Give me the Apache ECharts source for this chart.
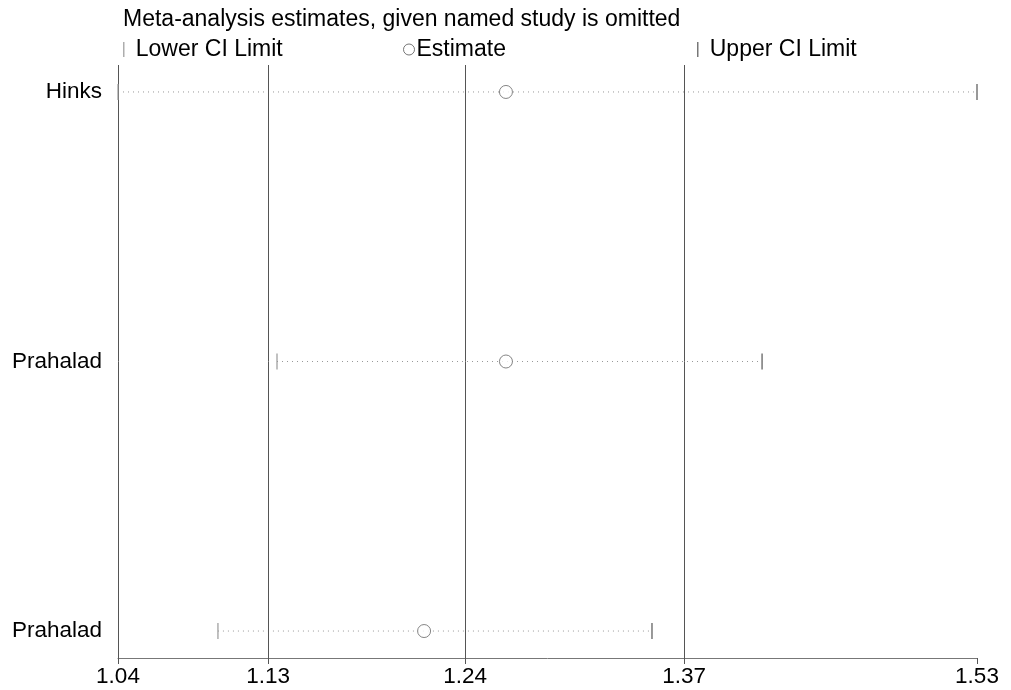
<!DOCTYPE html>
<html><head><meta charset="utf-8">
<script src="https://cdn.jsdelivr.net/npm/echarts@6/dist/echarts.min.js"></script>
<style>html,body{margin:0;padding:0;background:#fff}#c{width:1011px;height:690px}</style>
</head><body><div id="c"></div>
<script>
const studies = ['Hinks', 'Prahalad', 'Prahalad'];
const lowerCI = [1.04, 1.1307, 1.097];
const estimate = [1.2613, 1.2613, 1.2146];
const upperCI = [1.53, 1.4074, 1.3446];
const tickValues = [1.04, 1.1256, 1.238, 1.3629, 1.53];
const tickLabels = ['1.04', '1.13', '1.24', '1.37', '1.53'];
const refLines = [1.04, 1.1256, 1.238, 1.3629];
const titleText = 'Meta-analysis estimates, given named study is omitted';

const font = 'Liberation Sans, Arial, sans-serif';
const rows = studies.map((s, i) => i + 1);
const barPath = 'path://M0,0 L1,0 L1,10 L0,10 Z';
const yMin = 0.9, yMax = 3.1;

const refSeries = {
  type: 'custom', silent: true, z: 2,
  data: refLines.map(v => [v]),
  renderItem: (params, api) => {
    const top = api.coord([api.value(0), yMin]);
    const bot = api.coord([api.value(0), yMax]);
    const x = Math.round(top[0]) + 0.5;
    return { type: 'line', shape: { x1: x, y1: Math.round(top[1]), x2: x, y2: Math.round(bot[1]) },
      style: { stroke: '#555', lineWidth: 1 } };
  }
};

const ciSeries = rows.map((r, i) => ({
  type: 'line', silent: true, symbol: 'none', z: 1,
  data: [[lowerCI[i], r], [upperCI[i], r]],
  lineStyle: { color: '#999', width: 1, type: [1, 4] }
}));

const option = {
  animation: false,
  backgroundColor: '#fff',
  title: { text: titleText, left: 118, top: 3,
    textStyle: { fontFamily: font, fontSize: 23, fontWeight: 'normal', color: '#000' } },
  legend: [
    { data: ['Lower CI Limit'], left: 118, top: 33, itemWidth: 2, itemHeight: 15,
      textStyle: { fontFamily: font, fontSize: 23, color: '#000', padding: [0,0,0,6] } },
    { data: ['Estimate'], left: 398, top: 33, itemWidth: 11, itemHeight: 11,
      itemStyle: { color: '#fff', borderColor: '#555', borderWidth: 1 },
      textStyle: { fontFamily: font, fontSize: 23, color: '#000', padding: [0,0,0,-3] } },
    { data: ['Upper CI Limit'], left: 692, top: 33, itemWidth: 2, itemHeight: 15,
      textStyle: { fontFamily: font, fontSize: 23, color: '#000', padding: [0,0,0,6] } }
  ],
  grid: { left: 118, right: 34, top: 65, bottom: 32, containLabel: false },
  xAxis: {
    type: 'value', min: 1.04, max: 1.53,
    axisLine: { show: true, lineStyle: { color: '#777', width: 1 } },
    axisTick: { show: true, customValues: tickValues, length: 6, lineStyle: { color: '#555' } },
    axisLabel: { customValues: tickValues,
      formatter: v => { const k = tickValues.findIndex(t => Math.abs(t - v) < 1e-6); return k >= 0 ? tickLabels[k] : v.toFixed(2); },
      fontFamily: font, fontSize: 22.5, color: '#000', margin: 7 },
    splitLine: { show: false }
  },
  yAxis: {
    type: 'value', min: yMin, max: yMax, inverse: true,
    axisLine: { show: false }, axisTick: { show: false }, splitLine: { show: false },
    axisLabel: { customValues: rows, formatter: v => studies[Math.round(v) - 1] || '',
      fontFamily: font, fontSize: 22.5, color: '#000', margin: 16 }
  },
  series: [
    refSeries,
    ...ciSeries,
    { name: 'Lower CI Limit', type: 'scatter', symbol: barPath, symbolSize: [1.5, 16], z: 3,
      itemStyle: { color: '#999' }, data: rows.map((r, i) => [lowerCI[i], r]) },
    { name: 'Estimate', type: 'scatter', symbol: 'circle', symbolSize: 13, z: 4,
      itemStyle: { color: '#fff', borderColor: '#666', borderWidth: 1 },
      data: rows.map((r, i) => [estimate[i], r]) },
    { name: 'Upper CI Limit', type: 'scatter', symbol: barPath, symbolSize: [1.5, 16], z: 3,
      itemStyle: { color: '#555' }, data: rows.map((r, i) => [upperCI[i], r]) }
  ]
};
echarts.init(document.getElementById('c')).setOption(option);
</script></body></html>
